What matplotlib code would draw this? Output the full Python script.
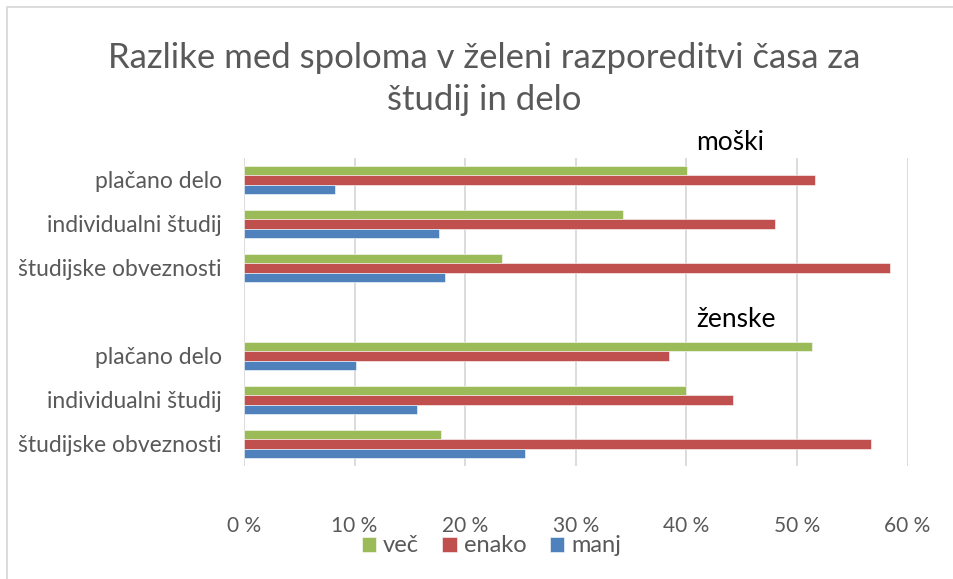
import numpy as np
import matplotlib.pyplot as plt
from matplotlib.patches import Rectangle

# ------------------------------------------------------------
# Data (shares)
# ------------------------------------------------------------
categories = ["plačano delo", "individualni študij", "študijske obveznosti", "",
              "plačano delo", "individualni študij", "študijske obveznosti"]

# moški (top block)
m_vec = [0.401, 0.343, 0.233]
m_enako = [0.516, 0.480, 0.584]
m_manj = [0.082, 0.176, 0.182]

# ženske (bottom block)
z_vec = [0.514, 0.400, 0.178]
z_enako = [0.384, 0.442, 0.567]
z_manj = [0.101, 0.156, 0.254]

series_names = ["več", "enako", "manj"]
colors = ["#9BBB59", "#C0504D", "#4F81BD"]
x_ticks = [0, 0.1, 0.2, 0.3, 0.4, 0.5, 0.6]
x_ticklabels = ["0 %", "10 %", "20 %", "30 %", "40 %", "50 %", "60 %"]

# one empty slot between the two groups
vec = m_vec + [np.nan] + z_vec
enako = m_enako + [np.nan] + z_enako
manj = m_manj + [np.nan] + z_manj

plt.rcParams['font.family'] = ['Lato', 'DejaVu Sans']
GRAY = "#595959"

fig = plt.figure(figsize=(9.54, 5.79), dpi=100)
ax = fig.add_axes([244 / 954, 1 - 466 / 579, (907.5 - 244) / 954, (466 - 158) / 579])

y = np.arange(len(categories))
h = 0.205
for vals, off, name, col in zip([vec, enako, manj], [-h, 0, h], series_names, colors):
    ax.barh(y + off, vals, height=h, color=col, edgecolor="white", linewidth=0.4,
            label=name, zorder=3)

ax.set_ylim(len(categories) - 0.5, -0.5)
ax.set_xlim(0, 0.6)
ax.set_yticks(y)
ax.set_yticklabels(categories, fontsize=16.5, color=GRAY)
ax.set_xticks(x_ticks)
ax.set_xticklabels(x_ticklabels, fontsize=15, color=GRAY)
ax.tick_params(axis="y", length=0, pad=16)
ax.tick_params(axis="x", length=0, pad=36)

ax.grid(axis="x", color="#D9D9D9", linewidth=1.3, zorder=0)
for s in ax.spines.values():
    s.set_visible(False)

# group labels
ax.text(0.409, -0.86, "moški", fontsize=19, color="black", va="center", ha="left")
ax.text(0.409, 3.18, "ženske", fontsize=19, color="black", va="center", ha="left")

fig.text(0.508, 0.864, "Razlike med spoloma v želeni razporeditvi časa za\nštudij in delo",
         ha="center", va="center", fontsize=25, color=GRAY, linespacing=1.4)

fig.legend(loc="center", bbox_to_anchor=(0.515, 0.057), ncol=3, frameon=False,
           fontsize=17, labelcolor=GRAY, handlelength=0.6, handleheight=0.6,
           handletextpad=0.3, columnspacing=1.0)

# chart border (only left/top visible in the crop)
fig.patches.append(Rectangle((7 / 954, -0.1), 1.2, 1 - 7 / 579 + 0.1,
                             transform=fig.transFigure, fill=False,
                             edgecolor="#D9D9D9", linewidth=1.3))

fig.savefig("out.png", dpi=100)
